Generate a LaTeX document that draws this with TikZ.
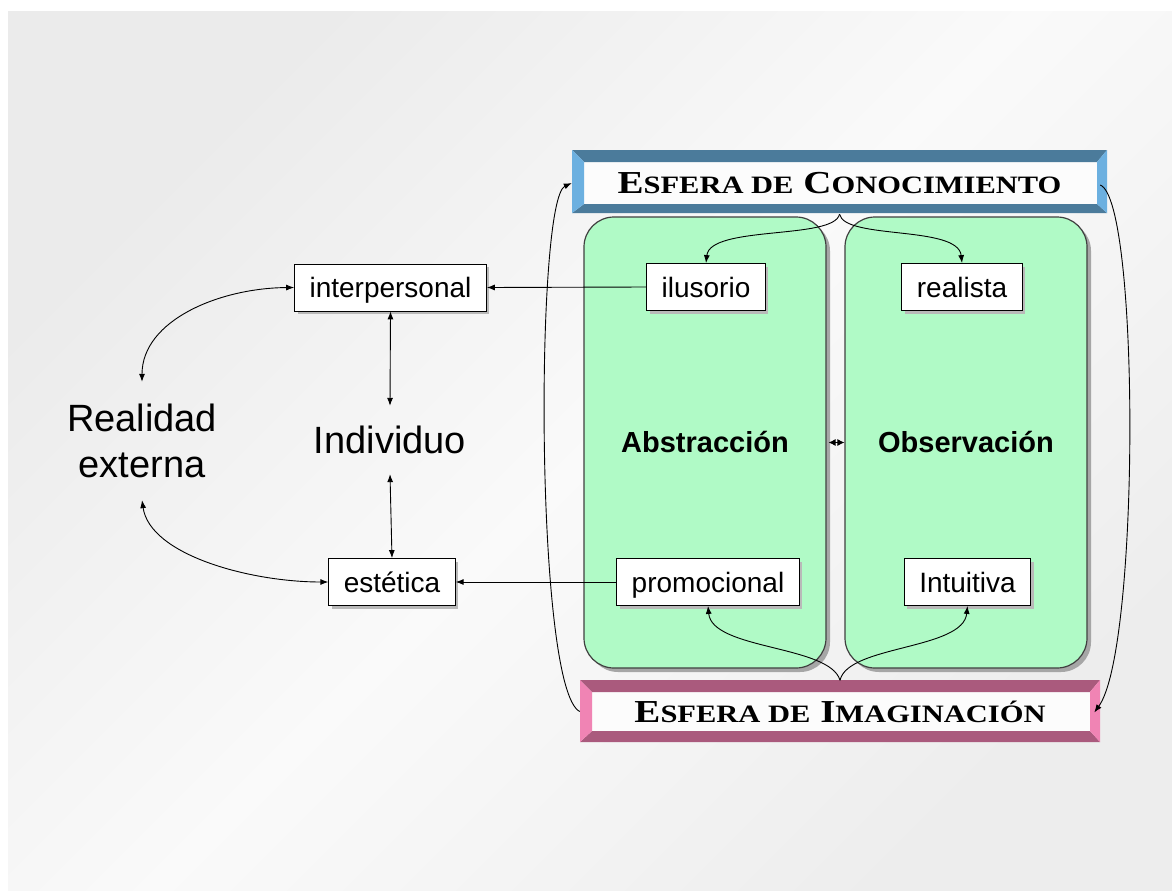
\documentclass[tikz,border=0pt]{standalone}
\usepackage{fontspec}
\setmainfont{Liberation Sans}
\newfontfamily\spherefont[FakeStretch=1.22]{Liberation Serif}
\usetikzlibrary{arrows.meta,shadows}
\definecolor{mint}{RGB}{176,250,198}
\definecolor{knowdark}{RGB}{75,123,155}
\definecolor{knowlight}{RGB}{108,176,224}
\definecolor{imagdark}{RGB}{170,90,125}
\definecolor{imaglight}{RGB}{240,132,180}
\newcommand{\smallcap}[1]{{\fontsize{25}{25}\selectfont #1}}

\begin{document}
\begin{tikzpicture}[x=1pt, y=-1pt,
    concept/.style={draw=black, fill=white, line width=0.8pt, inner xsep=15pt, minimum height=47pt,
        text height=22pt, text depth=2pt, font=\fontsize{28}{30}\selectfont,
        drop shadow={shadow xshift=3pt, shadow yshift=-3pt, fill=gray!55, opacity=1}},
    sphere/.style={draw=black!75, fill=mint, line width=1.2pt, rounded corners=30pt,
        minimum width=242pt, minimum height=451pt, font=\fontsize{29}{30}\selectfont\bfseries,
        drop shadow={shadow xshift=4pt, shadow yshift=-4pt, fill=gray!70, opacity=1}},
    bigword/.style={font=\fontsize{38}{46}\selectfont, align=center, inner xsep=0pt, inner ysep=22pt},
    bartext/.style={font=\spherefont\bfseries\fontsize{32}{32}\selectfont, minimum height=62pt},
    link/.style={line width=0.9pt, -{Latex[length=8pt,width=6pt]}},
    both/.style={line width=0.9pt, {Latex[length=8pt,width=6pt]}-{Latex[length=8pt,width=6pt]}}
  ]
    \useasboundingbox (0,0) rectangle (1172,891);
    % background panel
    \shade[top color=black!8, bottom color=black!7, middle color=black!2, shading angle=45]
        (8,12) rectangle (1172,891);

    % Esfera de Conocimiento bar
    \fill[black!1] (584,162) rectangle (1097,204);
    \fill[knowdark] (572,150) -- (1107,150) -- (1097,162) -- (584,162) -- cycle;
    \fill[knowdark] (572,213) -- (1107,213) -- (1097,204) -- (584,204) -- cycle;
    \fill[knowlight] (572,150) -- (584,162) -- (584,204) -- (572,213) -- cycle;
    \fill[knowlight] (1107,150) -- (1097,162) -- (1097,204) -- (1107,213) -- cycle;
    \node[bartext, minimum width=535pt] (know) at (839.5,183)
        {E\smallcap{SFERA DE} C\smallcap{ONOCIMIENTO}};

    % Esfera de Imaginacion bar
    \fill[black!1] (592,692) rectangle (1090,731);
    \fill[imagdark] (580,680) -- (1100,680) -- (1090,692) -- (592,692) -- cycle;
    \fill[imagdark] (580,742) -- (1100,742) -- (1090,731) -- (592,731) -- cycle;
    \fill[imaglight] (580,680) -- (592,692) -- (592,731) -- (580,742) -- cycle;
    \fill[imaglight] (1100,680) -- (1090,692) -- (1090,731) -- (1100,742) -- cycle;
    \node[bartext, minimum width=520pt] (imag) at (840,711.5)
        {E\smallcap{SFERA DE} I\smallcap{MAGINACIÓN}};

    % the two green columns
    \node[sphere] (abs) at (705,442.5) {Abstracción};
    \node[sphere] (obs) at (966,442.5) {Observación};

    \node[concept] (ilusorio) at (706,287) {ilusorio};
    \node[concept] (realista) at (962,287) {realista};
    \node[concept] (promocional) at (708,582) {promocional};
    \node[concept] (intuitiva) at (967.5,582) {Intuitiva};
    \node[concept] (interpersonal) at (390.5,287.5) {interpersonal};
    \node[concept] (estetica) at (392,582) {estética};

    \node[bigword, inner ysep=20pt] (individuo) at (390,440) {Individuo};
    \node[bigword] (realidad) at (142,441) {Realidad\\externa};

    % connectors
    \draw[line width=0.9pt, {Latex[length=7pt,width=7pt]}-{Latex[length=7pt,width=7pt]}] ([xshift=2pt]abs.east) -- (obs.west);
    \draw[link] (know.south) .. controls (834,240) and (710,225) .. (ilusorio.north);
    \draw[link] (know.south) .. controls (845,240) and (958,225) .. (realista.north);
    \draw[link] (imag.north) .. controls (830,645) and (712,650) .. (promocional.south);
    \draw[link] (imag.north) .. controls (848,645) and (963,650) .. (intuitiva.south);
    \draw[link] (imag.west) .. controls (535,690) and (535,200) .. (know.west);
    \draw[link] ([xshift=-7pt,yshift=-2pt]know.east) .. controls (1140,200) and (1140,650) .. ([xshift=-6pt,yshift=-1pt]imag.east);
    \draw[link] (ilusorio.west) -- (interpersonal.east);
    \draw[link] (promocional.west) -- (estetica.east);
    \draw[both] (interpersonal.south) -- (individuo.north);
    \draw[both] (individuo.south) -- (estetica.north);
    \draw[both] (interpersonal.west) .. controls (220,288) and (142,320) .. (realidad.north);
    \draw[both] (realidad.south) .. controls (150,555) and (250,582) .. (estetica.west);
\end{tikzpicture}
\end{document}
